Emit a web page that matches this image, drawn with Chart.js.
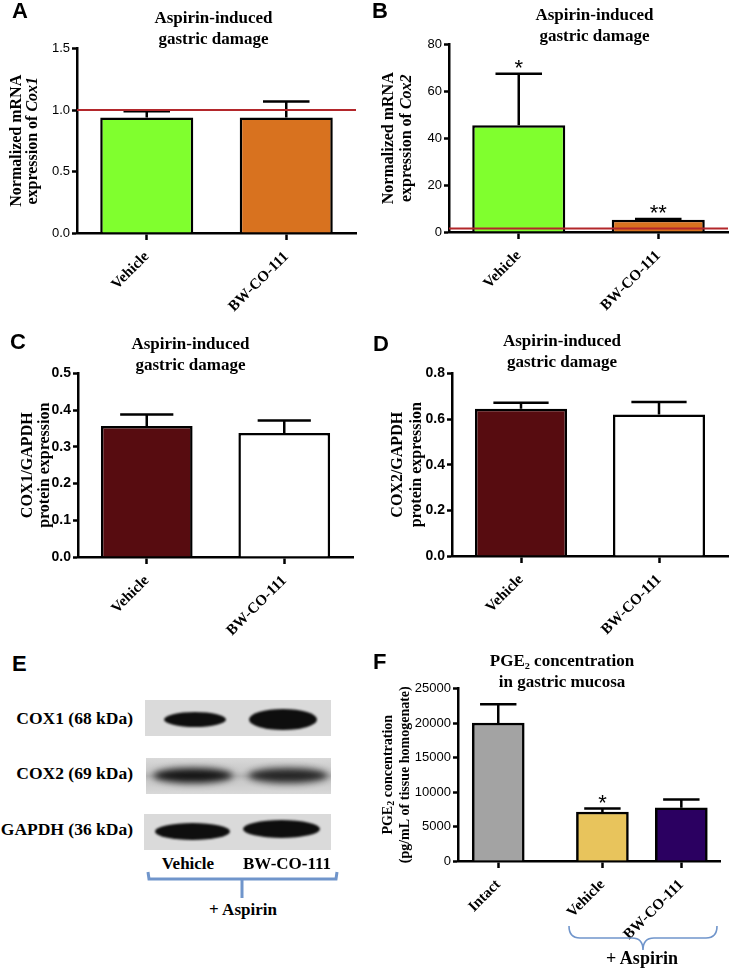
<!DOCTYPE html>
<html>
<head>
<meta charset="utf-8">
<script src="https://cdn.jsdelivr.net/npm/chart.js@4.4.1/dist/chart.umd.min.js"></script>
<style>
  body { margin: 0; background: #fff; }
  #fig { position: relative; width: 735px; height: 974px; overflow: hidden; }
  #fig canvas { position: absolute; }
  .letter { position: absolute; font: bold 22px 'Liberation Sans', Arial, sans-serif; line-height: 1; }
  .txt { position: absolute; font-family: 'Liberation Serif', 'Times New Roman', serif; font-weight: bold; line-height: 1; white-space: nowrap; color: #000; }
  .blot { position: absolute; background: #dadada; overflow: hidden; }
  .band { position: absolute; background: #0e0e0e; border-radius: 50%; filter: blur(1.3px); }
  .band.soft { filter: blur(3.5px); background: #151515; }
</style>
</head>
<body>
<div id="fig">
  <canvas id="chartA" width="365" height="320" style="left:0;top:0"></canvas>
  <canvas id="chartB" width="365" height="320" style="left:370px;top:0"></canvas>
  <canvas id="chartC" width="365" height="330" style="left:0;top:320px"></canvas>
  <canvas id="chartD" width="365" height="330" style="left:370px;top:320px"></canvas>
  <canvas id="chartF" width="365" height="334" style="left:370px;top:640px"></canvas>

  <div class="letter" style="left:12px;top:0">A</div>
  <div class="letter" style="left:372px;top:0">B</div>
  <div class="letter" style="left:10px;top:331px">C</div>
  <div class="letter" style="left:373px;top:333px">D</div>
  <div class="letter" style="left:12px;top:653px">E</div>
  <div class="letter" style="left:373px;top:651px">F</div>

  <!-- E: western blot -->
  <div class="txt" style="left:0;width:133px;text-align:right;top:710px;font-size:17.5px">COX1 (68 kDa)</div>
  <div class="txt" style="left:0;width:133px;text-align:right;top:765px;font-size:17.5px">COX2 (69 kDa)</div>
  <div class="txt" style="left:0;width:133px;text-align:right;top:821px;font-size:17.5px">GAPDH (36 kDa)</div>

  <div class="blot" style="left:145px;top:700px;width:186px;height:36px">
    <div class="band" style="left:19px;top:12px;width:62px;height:15px"></div>
    <div class="band" style="left:104px;top:9px;width:68px;height:21px"></div>
  </div>
  <div class="blot" style="left:146px;top:758px;width:185px;height:36px;background:linear-gradient(#d9d9d9,#c9c9c9 35%,#b5b5b5 50%,#c9c9c9 65%,#d9d9d9)">
    <div class="band soft" style="left:7px;top:10px;width:80px;height:15px"></div>
    <div class="band soft" style="left:102px;top:10px;width:80px;height:15px;opacity:.9"></div>
  </div>
  <div class="blot" style="left:144px;top:814px;width:187px;height:36px">
    <div class="band" style="left:11px;top:9px;width:75px;height:17px"></div>
    <div class="band" style="left:99px;top:6px;width:77px;height:18px"></div>
  </div>

  <div class="txt" style="left:188px;top:855px;font-size:17px;transform:translateX(-50%)">Vehicle</div>
  <div class="txt" style="left:287px;top:855px;font-size:17px;transform:translateX(-50%)">BW-CO-111</div>
  <div class="txt" style="left:243px;top:901px;font-size:17px;transform:translateX(-50%)">+ Aspirin</div>

  <div class="txt" style="left:642px;top:949px;font-size:18px;transform:translateX(-50%)">+ Aspirin</div>

  <svg width="735" height="974" style="position:absolute;left:0;top:0;pointer-events:none">
    <path d="M148,872 L149,879 L336,879 L337,872 M242,879 L242,898" fill="none" stroke="#7095cb" stroke-width="3"/>
    <path d="M569,926 Q569,938 580,938 L632,938 Q643,938 643,950 Q643,938 654,938 L706,938 Q717,938 717,926" fill="none" stroke="#7095cb" stroke-width="1.6"/>
  </svg>
</div>

<script>
const SERIF = "'Liberation Serif', 'Times New Roman', serif";
const SANS = "'Liberation Sans', Arial, sans-serif";

// ---- data ----
const groups = ['Vehicle', 'BW-CO-111'];
const groupsF = ['Intact', 'Vehicle', 'BW-CO-111'];

const cox1Mrna = [0.94, 0.94];
const cox1MrnaSem = [0.05, 0.13];
const cox1MrnaControl = 1.0;
const ticksA = [0, 0.5, 1.0, 1.5];

const cox2Mrna = [45.5, 5.2];
const cox2MrnaSem = [22, 0.4];
const cox2MrnaControl = 1.5;
const cox2MrnaStars = ['*', '**'];
const ticksB = [0, 20, 40, 60, 80];

const cox1Protein = [0.357, 0.338];
const cox1ProteinSem = [0.031, 0.034];
const ticksC = [0, 0.1, 0.2, 0.3, 0.4, 0.5];

const cox2Protein = [0.646, 0.62];
const cox2ProteinSem = [0.026, 0.055];
const ticksD = [0, 0.2, 0.4, 0.6, 0.8];

const pge2 = [20000, 7100, 7700];
const pge2Sem = [2700, 500, 1200];
const pge2Stars = ['', '*', ''];
const ticksF = [0, 5000, 10000, 15000, 20000, 25000];

// x positions of the three groups in panel F (gap after Intact)
const fGroupPos = [0, 1.32, 2.32];

// error bars, control line, asterisks and rich y-axis title
function panelExtras(cfg) {
  return {
    id: 'panelExtras',
    afterLayout(chart) {
      // nudge the title block sideways
      if (cfg.titleShift && chart.titleBlock) {
        chart.titleBlock.left += cfg.titleShift;
        chart.titleBlock.right += cfg.titleShift;
      }
    },
    afterDatasetsDraw(chart) {
      const ctx = chart.ctx;
      const y = chart.scales.y;
      const area = chart.chartArea;
      const meta = chart.getDatasetMeta(0);
      const data = chart.data.datasets[0].data;
      ctx.save();
      ctx.strokeStyle = '#000';
      ctx.fillStyle = '#000';
      ctx.lineWidth = 2.5;
      meta.data.forEach((bar, i) => {
        const v = typeof data[i] === 'object' ? data[i].y : data[i];
        const base = y.getPixelForValue(v);
        const top = y.getPixelForValue(v + cfg.errors[i]);
        const half = bar.width * cfg.cap;
        ctx.beginPath();
        ctx.moveTo(bar.x, base);
        ctx.lineTo(bar.x, top);
        ctx.moveTo(bar.x - half, top);
        ctx.lineTo(bar.x + half, top);
        ctx.stroke();
        if (cfg.stars && cfg.stars[i]) {
          ctx.font = '22px ' + SANS;
          ctx.textAlign = 'center';
          ctx.textBaseline = 'alphabetic';
          ctx.fillText(cfg.stars[i], bar.x, top - 11 + 0.57 * 22);
        }
      });
      if (cfg.control != null) {
        const py = y.getPixelForValue(cfg.control);
        ctx.strokeStyle = '#b3272b';
        ctx.lineWidth = 2;
        ctx.beginPath();
        ctx.moveTo(area.left, py);
        ctx.lineTo(area.right, py);
        ctx.stroke();
      }
      ctx.restore();
    },
    afterDraw(chart) {
      const t = cfg.yTitle;
      if (!t) return;
      const ctx = chart.ctx;
      const area = chart.chartArea;
      const cy = (area.top + area.bottom) / 2;
      t.lines.forEach((segs, li) => {
        ctx.save();
        ctx.translate(t.xs[li], cy);
        ctx.rotate(-Math.PI / 2);
        ctx.fillStyle = '#000';
        ctx.textBaseline = 'middle';
        let total = 0;
        segs.forEach(s => { ctx.font = s.font; total += ctx.measureText(s.text).width; });
        let x = -total / 2;
        segs.forEach(s => {
          ctx.font = s.font;
          ctx.fillText(s.text, x, s.dy || 0);
          x += ctx.measureText(s.text).width;
        });
        ctx.restore();
      });
    }
  };
}

function barPanel(id, o) {
  const yt = o.yTicks;
  return new Chart(document.getElementById(id), {
    type: 'bar',
    data: {
      labels: o.labels,
      datasets: [{
        data: o.data,
        backgroundColor: o.colors,
        borderColor: '#000',
        borderWidth: 2.5,
        categoryPercentage: 1,
        barPercentage: 0.667,
        barThickness: o.barThickness
      }]
    },
    options: {
      responsive: false,
      animation: false,
      devicePixelRatio: 1,
      layout: { padding: { left: 0, right: o.padRight, top: 0, bottom: 0 } },
      plugins: {
        legend: { display: false },
        tooltip: { enabled: false },
        title: {
          display: true,
          text: o.title,
          color: '#000',
          fullSize: false,
          font: { family: SERIF, size: 17, weight: 'bold', lineHeight: 1.25 },
          padding: { top: o.titlePad[0], bottom: o.titlePad[1] }
        }
      },
      scales: {
        x: Object.assign({
          z: 1,
          ticks: {
            color: '#000',
            font: { family: SERIF, size: 15, weight: 'bold' },
            autoSkip: false,
            maxRotation: 45,
            minRotation: 45,
            padding: 8
          },
          grid: { display: true, offset: false, drawOnChartArea: false, drawTicks: true, tickLength: 7, tickWidth: 2.5, tickColor: '#000', color: '#000' },
          border: { display: true, color: '#000', width: 2.5 },
          afterFit: s => { s.height = o.xHeight; }
        }, o.xExtra || {}),
        y: {
          z: 1,
          min: yt[0],
          max: yt[yt.length - 1],
          afterBuildTicks: s => { s.ticks = yt.map(v => ({ value: v })); },
          ticks: {
            color: '#000',
            font: { family: SANS, size: o.yTickSize, weight: o.yTickWeight },
            padding: 2,
            callback: o.fmt
          },
          grid: { display: true, drawOnChartArea: false, drawTicks: true, tickLength: 5, tickWidth: 2.5, tickColor: '#000', color: '#000' },
          border: { display: true, color: '#000', width: 2.5 },
          afterFit: s => { s.width = o.yWidth; }
        }
      }
    },
    plugins: [panelExtras(o)]
  });
}

const titleDamage = ['Aspirin-induced', 'gastric damage'];
const bold16 = 'bold 16px ' + SERIF;
const boldItal16 = 'italic bold 16px ' + SERIF;

barPanel('chartA', {
  labels: groups, data: cox1Mrna, errors: cox1MrnaSem, control: cox1MrnaControl,
  colors: ['#80ff2e', '#d8721f'], cap: 0.25,
  yTicks: ticksA, fmt: v => v.toFixed(1), yTickSize: 13, yTickWeight: 'normal',
  title: titleDamage, titleShift: -3, titlePad: [7.5, -1.5],
  yWidth: 77, xHeight: 87, padRight: 9,
  yTitle: { xs: [17, 33], lines: [
    [{ text: 'Normalized mRNA', font: bold16 }],
    [{ text: 'expression of ', font: bold16 }, { text: 'Cox1', font: boldItal16 }]
  ] }
});

barPanel('chartB', {
  labels: groups, data: cox2Mrna, errors: cox2MrnaSem, control: cox2MrnaControl, stars: cox2MrnaStars,
  colors: ['#80ff2e', '#d8721f'], cap: 0.25,
  yTicks: ticksB, fmt: v => String(v), yTickSize: 13, yTickWeight: 'normal',
  title: titleDamage, titleShift: 6, titlePad: [4.5, -2.5],
  yWidth: 79, xHeight: 88, padRight: 7,
  yTitle: { xs: [19, 37], lines: [
    [{ text: 'Normalized mRNA', font: bold16 }],
    [{ text: 'expression of ', font: bold16 }, { text: 'Cox2', font: boldItal16 }]
  ] }
});

barPanel('chartC', {
  labels: groups, data: cox1Protein, errors: cox1ProteinSem,
  colors: ['#570c10', '#ffffff'], cap: 0.29,
  yTicks: ticksC, fmt: v => v.toFixed(1), yTickSize: 14, yTickWeight: 'bold',
  title: titleDamage, titleShift: -25, titlePad: [14, -3],
  yWidth: 78, xHeight: 93, padRight: 12,
  yTitle: { xs: [28, 45], lines: [
    [{ text: 'COX1/GAPDH', font: bold16 }],
    [{ text: 'protein expression', font: bold16 }]
  ] }
});

barPanel('chartD', {
  labels: groups, data: cox2Protein, errors: cox2ProteinSem,
  colors: ['#570c10', '#ffffff'], cap: 0.3,
  yTicks: ticksD, fmt: v => v.toFixed(1), yTickSize: 14, yTickWeight: 'bold',
  title: titleDamage, titleShift: -28, titlePad: [10.5, 0.5],
  yWidth: 82, xHeight: 94, padRight: 7,
  yTitle: { xs: [28, 47], lines: [
    [{ text: 'COX2/GAPDH', font: bold16 }],
    [{ text: 'protein expression', font: bold16 }]
  ] }
});

const bold14 = 'bold 14px ' + SERIF;
barPanel('chartF', {
  labels: groupsF,
  data: pge2.map((v, i) => ({ x: fGroupPos[i], y: v })),
  errors: pge2Sem, stars: pge2Stars,
  colors: ['#a3a3a3', '#e8c45c', '#2b0061'], cap: 0.35, barThickness: 52,
  yTicks: ticksF, fmt: v => String(v), yTickSize: 13, yTickWeight: 'normal',
  title: ['PGE\u2082 concentration', 'in gastric mucosa'], titleShift: -27, titlePad: [10.5, -4.5],
  yWidth: 88, xHeight: 113, padRight: 15,
  xExtra: {
    type: 'linear', min: -0.51, max: 2.81, offset: false,
    afterBuildTicks: s => { s.ticks = fGroupPos.map(v => ({ value: v })); }
  },
  yTitle: { xs: [18, 35], lines: [
    [{ text: 'PGE', font: bold14 }, { text: '2', font: 'bold 10px ' + SERIF, dy: 3 }, { text: ' concentration', font: bold14 }],
    [{ text: '(pg/mL of tissue homogenate)', font: bold14 }]
  ] }
});
// category labels for the linear x axis of panel F
Chart.getChart('chartF').options.scales.x.ticks.callback = (v, i) => groupsF[i];
Chart.getChart('chartF').update('none');
</script>
</body>
</html>
